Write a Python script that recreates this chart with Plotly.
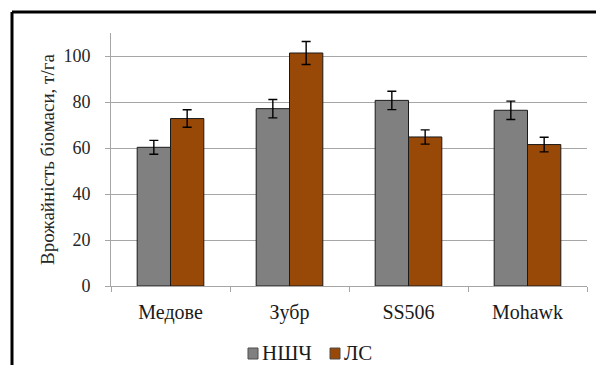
import plotly.graph_objects as go

categories = ["Медове", "Зубр", "SS506", "Mohawk"]
series_names = ["НШЧ", "ЛС"]
nshch_values = [60.3, 77.1, 80.7, 76.4]
nshch_errors = [3.0, 4.0, 4.0, 4.0]
ls_values = [72.8, 101.3, 64.8, 61.5]
ls_errors = [3.8, 5.0, 3.1, 3.2]
y_ticks = [0, 20, 40, 60, 80, 100]

W, H = 596, 365
ML, MR, MT, MB = 111, 9, 33, 79
PW, PH = W - ML - MR, H - MT - MB

FONT = "Times New Roman"
GRAY = "#808080"
BROWN = "#984807"

def px_x(px):
    return (px - ML) / PW

def px_y(py):
    return (H - MB - py) / PH

fig = go.Figure()
fig.add_trace(go.Bar(
    name=series_names[0], x=categories, y=nshch_values,
    marker=dict(color=GRAY, line=dict(color="#1a1a1a", width=1)),
    error_y=dict(type="data", array=nshch_errors, color="#000000", thickness=1.4, width=4.5),
))
fig.add_trace(go.Bar(
    name=series_names[1], x=categories, y=ls_values,
    marker=dict(color=BROWN, line=dict(color="#1a1a1a", width=1)),
    error_y=dict(type="data", array=ls_errors, color="#000000", thickness=1.4, width=4.5),
))

# frame lines along the top and left edges of the image
fig.add_shape(type="line", xref="paper", yref="paper",
              x0=px_x(12), x1=px_x(600), y0=px_y(12), y1=px_y(12),
              line=dict(color="#000000", width=3))
fig.add_shape(type="line", xref="paper", yref="paper",
              x0=px_x(12), x1=px_x(12), y0=px_y(12), y1=px_y(370),
              line=dict(color="#000000", width=3))

# compact legend below the plot: small swatch followed by the series name
legend_items = [(series_names[0], GRAY, 248), (series_names[1], BROWN, 330)]
for name, color, lx in legend_items:
    fig.add_shape(type="rect", xref="paper", yref="paper",
                  x0=px_x(lx), x1=px_x(lx + 10), y0=px_y(359), y1=px_y(348),
                  fillcolor=color, line=dict(color="#4d4d4d", width=1))
    fig.add_annotation(text=name, xref="paper", yref="paper",
                       x=px_x(lx + 12), y=px_y(353), xanchor="left", yanchor="middle",
                       showarrow=False, font=dict(family=FONT, size=21, color="#1a1a1a"))

fig.update_layout(
    width=W, height=H,
    margin=dict(l=ML, r=MR, t=MT, b=MB),
    paper_bgcolor="white", plot_bgcolor="white",
    barmode="group", bargap=0.44, bargroupgap=0,
    font=dict(family=FONT, size=18, color="#262626"),
    showlegend=False,
)
fig.update_yaxes(
    range=[0, 110], tickvals=y_ticks,
    showgrid=True, gridcolor="#a6a6a6", gridwidth=1,
    showline=True, linecolor="#a6a6a6", linewidth=1,
    ticks="outside", ticklen=5, tickcolor="#a6a6a6",
    ticklabelstandoff=11,
    tickfont=dict(family=FONT, size=18, color="#262626"),
    title=dict(text="Врожайність біомаси, т/га", font=dict(family=FONT, size=19, color="#262626"), standoff=3),
    zeroline=False,
)
fig.update_xaxes(
    showline=True, linecolor="#a6a6a6", linewidth=1,
    ticks="outside", ticklen=5, tickcolor="#a6a6a6", tickson="boundaries",
    ticklabelstandoff=8,
    tickfont=dict(family=FONT, size=20, color="#1a1a1a"),
)

fig.write_html("out.html")
